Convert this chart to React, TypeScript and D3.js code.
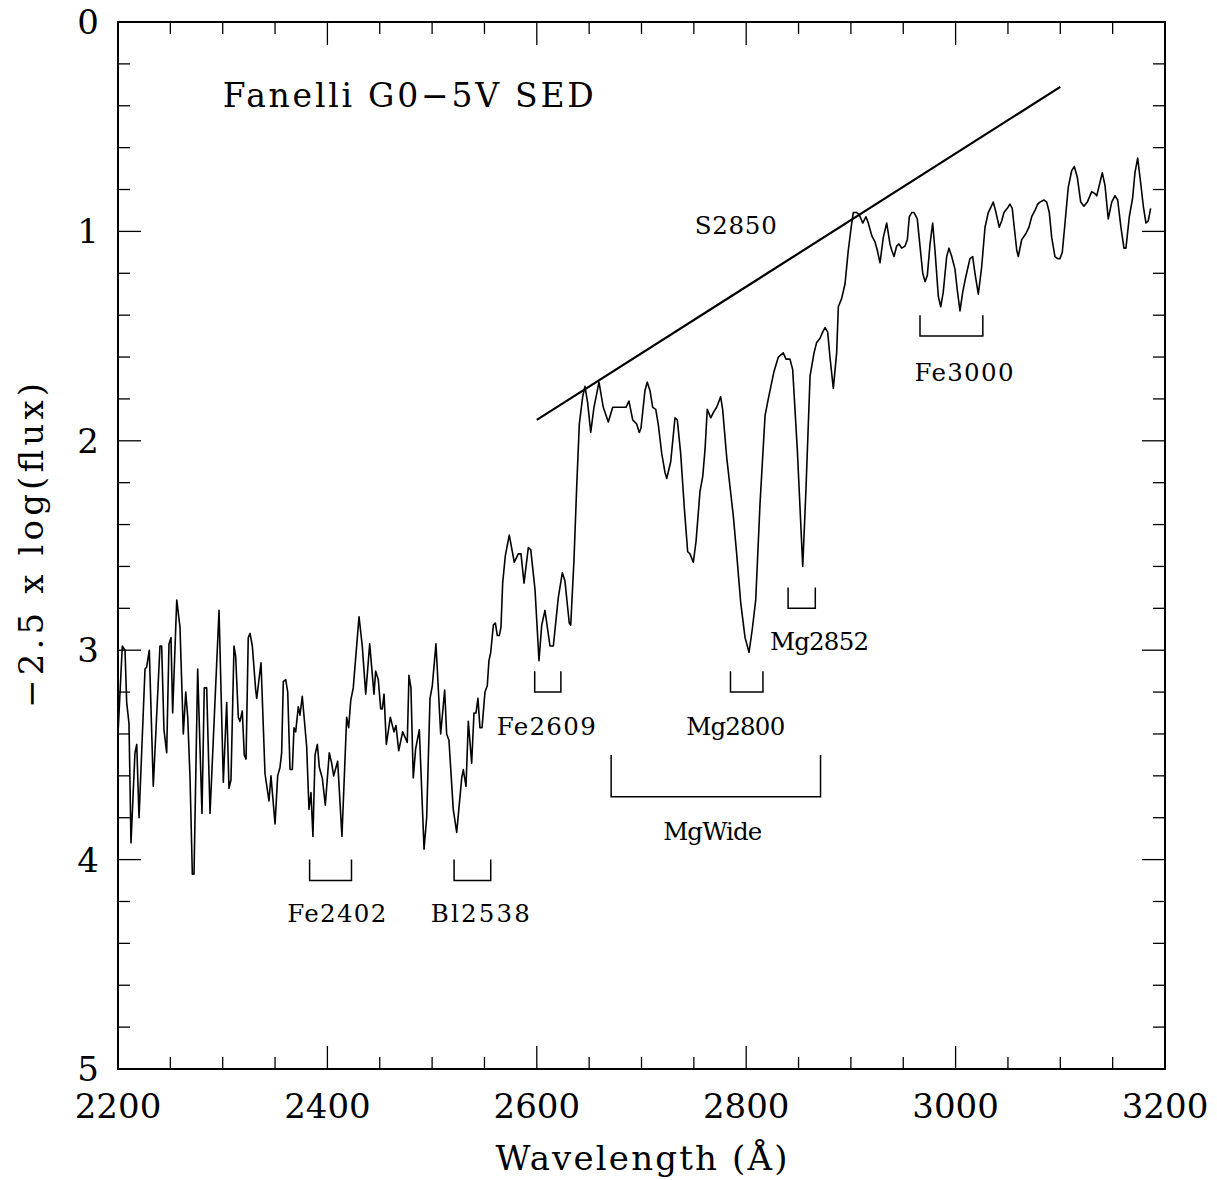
import React from 'react';
import * as d3 from 'd3';

// Spectrum: wavelength (Å) and -2.5 log(flux)
const wavelength = [
  2200.3, 2204.1, 2206.7, 2208.3, 2210.5, 2212.4, 2216.2, 2217.9, 2220.1, 2225.8,
  2227.4, 2229.9, 2233.7, 2240.1, 2241.7, 2243.9, 2246.5, 2248.7, 2250.6, 2252.2,
  2256.1, 2259.2, 2262.4, 2264.7, 2266.6, 2268.8, 2271.0, 2272.6, 2276.1, 2280.2,
  2282.4, 2284.7, 2287.9, 2292.6, 2296.5, 2300.6, 2303.8, 2306.0, 2307.9, 2310.8,
  2312.4, 2314.9, 2316.5, 2318.7, 2320.6, 2322.3, 2324.4, 2326.1, 2328.3, 2331.5,
  2332.5, 2336.6, 2340.4, 2344.2, 2346.1, 2350.0, 2352.5, 2354.7, 2356.3, 2357.9,
  2360.2, 2362.1, 2364.3, 2366.5, 2368.1, 2369.7, 2372.2, 2373.8, 2376.0, 2380.2,
  2382.4, 2384.3, 2386.2, 2388.2, 2390.4, 2392.3, 2395.1, 2398.0, 2401.8, 2404.1,
  2406.0, 2409.8, 2413.9, 2418.4, 2420.3, 2422.3, 2424.7, 2430.2, 2433.3, 2436.6,
  2440.4, 2444.5, 2446.1, 2448.6, 2450.9, 2452.4, 2454.1, 2456.3, 2460.1, 2463.6,
  2465.5, 2468.1, 2471.9, 2476.3,
  2477.9, 2479.8, 2482.0, 2484.3, 2487.8, 2492.3, 2494.8, 2498.0, 2500.2, 2503.7,
  2508.2, 2512.0, 2513.9, 2516.1, 2520.2, 2523.5, 2528.3, 2529.8, 2532.4, 2534.6,
  2537.8, 2540.0, 2541.9, 2543.8, 2545.7, 2547.7, 2550.5, 2552.7, 2554.3, 2556.0,
  2558.5, 2560.4, 2562.3, 2564.2, 2565.8, 2567.4, 2569.9, 2573.7, 2578.5, 2582.3,
  2584.9, 2587.8, 2591.9, 2594.2, 2598.3, 2602.1, 2604.7, 2607.8, 2612.6, 2615.8,
  2620.5, 2624.4, 2626.9, 2631.0, 2632.4,
  2635.5, 2638.1, 2640.6, 2643.8, 2646.0, 2648.6, 2651.5, 2654.6, 2659.4, 2663.5,
  2668.3, 2672.5, 2677.8, 2685.2, 2688.0, 2691.6, 2695.4, 2697.9, 2699.5, 2703.3,
  2705.5, 2708.1, 2710.7, 2713.6, 2716.0, 2719.3, 2722.4, 2724.1, 2727.9, 2732.0,
  2734.2, 2737.4, 2740.9, 2744.1, 2746.3, 2749.5, 2752.1, 2755.9, 2758.5, 2760.7,
  2762.8, 2766.1, 2769.2, 2771.8, 2775.6, 2777.5, 2781.4, 2787.7, 2790.9, 2794.7,
  2798.9, 2802.7, 2805.8, 2809.1, 2813.2, 2818.0, 2821.1, 2826.5, 2830.7, 2835.4,
  2838.0, 2841.8, 2844.4, 2848.8, 2851.4, 2854.0, 2857.1, 2861.0, 2864.8, 2867.3,
  2870.5, 2873.1, 2875.3, 2877.8, 2880.0, 2883.2, 2886.4,
  2888.0, 2891.2, 2894.4, 2897.5, 2900.8, 2902.3, 2905.5, 2908.0, 2911.3, 2914.4,
  2916.6, 2919.9, 2923.0, 2925.2, 2927.8, 2930.9, 2934.2, 2937.3, 2939.0, 2941.2,
  2943.7, 2945.9, 2948.5, 2951.7, 2953.9, 2955.8, 2958.1, 2960.3, 2963.4, 2966.0,
  2968.6, 2970.8, 2973.0, 2975.6, 2978.1, 2980.3, 2983.5, 2985.8, 2988.2, 2991.5,
  2993.7, 2996.3, 2999.4, 3001.6, 3004.2, 3006.8, 3009.6, 3013.7, 3016.3, 3018.5,
  3021.7, 3024.9, 3028.1, 3031.2,
  3036.0, 3038.6, 3041.7, 3044.0, 3046.2, 3049.4, 3051.9, 3054.1, 3056.0, 3058.4,
  3059.9, 3063.1, 3067.2, 3070.1, 3072.7, 3075.8, 3078.4, 3080.6, 3084.4, 3087.0,
  3089.5, 3091.8, 3094.9, 3097.5, 3099.7, 3101.9, 3104.5, 3107.6, 3110.9, 3113.4,
  3116.2, 3119.5, 3122.6, 3125.8, 3130.0, 3133.1, 3134.8, 3137.2, 3140.1, 3142.7,
  3145.8, 3149.1, 3152.2, 3154.8, 3157.9, 3160.8, 3162.7, 3165.9, 3169.1, 3171.3,
  3173.9, 3176.8, 3179.3, 3181.8, 3184.0, 3186.3,
];

const magnitude = [
  3.37, 2.98, 3.00, 3.25, 3.35, 3.92, 3.49, 3.45, 3.80, 3.09,
  3.08, 3.00, 3.65, 2.98, 2.98, 3.38, 3.49, 2.97, 2.94, 3.30,
  2.76, 2.89, 3.40, 3.20, 3.32, 3.61, 4.07, 4.07, 3.09, 3.78,
  3.18, 3.18, 3.78, 3.25, 2.81, 3.63, 3.25, 3.66, 3.62, 2.98,
  3.03, 3.32, 3.34, 3.29, 3.50, 3.52, 2.94, 2.92, 2.98, 3.19,
  3.23, 3.06, 3.59, 3.72, 3.60, 3.83, 3.60, 3.56, 3.49, 3.15,
  3.14, 3.20, 3.57, 3.57, 3.37, 3.39, 3.27, 3.31, 3.22, 3.46,
  3.76, 3.68, 3.89, 3.50, 3.45, 3.56, 3.61, 3.74, 3.49, 3.54,
  3.60, 3.53, 3.89, 3.32, 3.37, 3.24, 3.18, 2.84, 2.98, 3.21,
  2.97, 3.21, 3.10, 3.14, 3.28, 3.28, 3.21, 3.45, 3.32, 3.39,
  3.36, 3.48, 3.39, 3.44,
  3.12, 3.18, 3.61, 3.47, 3.38, 3.95, 3.80, 3.23, 3.17, 2.97,
  3.40, 3.19, 3.40, 3.43, 3.76, 3.87, 3.61, 3.57, 3.65, 3.34,
  3.54, 3.30, 3.30, 3.23, 3.37, 3.37, 3.20, 3.17, 3.05, 3.01,
  2.88, 2.87, 2.93, 2.93, 2.89, 2.68, 2.55, 2.45, 2.58, 2.54,
  2.54, 2.68, 2.51, 2.52, 2.71, 3.05, 2.88, 2.81, 2.98, 2.98,
  2.75, 2.63, 2.67, 2.87, 2.88,
  2.57, 2.22, 1.92, 1.79, 1.74, 1.82, 1.96, 1.84, 1.72, 1.84,
  1.91, 1.84, 1.84, 1.84, 1.81, 1.90, 1.92, 1.96, 1.94, 1.76,
  1.72, 1.76, 1.84, 1.85, 1.92, 2.06, 2.15, 2.18, 2.10, 1.89,
  1.90, 2.06, 2.32, 2.53, 2.54, 2.58, 2.48, 2.24, 2.17, 2.04,
  1.85, 1.89, 1.86, 1.84, 1.79, 1.85, 2.08, 2.36, 2.54, 2.77,
  2.94, 3.01, 2.90, 2.76, 2.30, 1.88, 1.80, 1.67, 1.60, 1.58,
  1.61, 1.61, 1.66, 2.04, 2.32, 2.60, 2.23, 1.69, 1.58, 1.53,
  1.51, 1.48, 1.46, 1.48, 1.60, 1.75, 1.58,
  1.36, 1.32, 1.25, 1.09, 0.96, 0.91, 0.91, 0.92, 0.96, 0.93,
  0.96, 1.02, 1.05, 1.09, 1.15, 1.03, 0.96, 1.06, 1.09, 1.12,
  1.07, 1.06, 1.08, 1.07, 1.04, 0.93, 0.91, 0.91, 0.94, 1.07,
  1.20, 1.24, 1.21, 1.06, 0.96, 1.09, 1.31, 1.36, 1.29, 1.12,
  1.08, 1.12, 1.18, 1.28, 1.38, 1.29, 1.22, 1.13, 1.12, 1.20,
  1.30, 1.17, 0.98, 0.91,
  0.86, 0.91, 0.98, 0.95, 0.91, 0.89, 0.87, 0.89, 0.98, 1.09,
  1.12, 1.04, 1.01, 0.98, 0.93, 0.90, 0.87, 0.86, 0.85, 0.86,
  0.91, 1.03, 1.12, 1.13, 1.13, 1.10, 0.96, 0.79, 0.71, 0.69,
  0.74, 0.86, 0.88, 0.86, 0.81, 0.82, 0.83, 0.78, 0.72, 0.78,
  0.94, 0.86, 0.83, 0.85, 0.98, 1.08, 1.08, 0.93, 0.84, 0.72,
  0.65, 0.77, 0.88, 0.96, 0.95, 0.89,
];

// S2850 pseudo-continuum line (endpoints)
const s2850X = [2600, 3100];
const s2850Y = [1.9, 0.31];

// Index bandpasses shown as brackets
const indexNames = ['Fe2402', 'Bl2538', 'Fe2609', 'Mg2800', 'Mg2852', 'MgWide', 'Fe3000'];
const indexLo = [2383, 2521, 2598, 2785, 2840, 2671, 2966];
const indexHi = [2423, 2556, 2623, 2816, 2866, 2871, 3026];
const bracketTop = [4.0, 4.0, 3.1, 3.1, 2.7, 3.5, 1.4];
const bracketBottom = [4.1, 4.1, 3.2, 3.2, 2.8, 3.7, 1.5];
const labelX = [2409, 2546, 2609, 2790, 2870, 2768, 3008];
const labelY = [4.30, 4.30, 3.405, 3.405, 3.0, 3.905, 1.715];

const xTickLabels = [2200, 2400, 2600, 2800, 3000, 3200];
const yTickLabels = [0, 1, 2, 3, 4, 5];

const W = 1217;
const H = 1180;
const FONT = '"DejaVu Serif", "Liberation Serif", serif';

export default function App() {
  const x = d3.scaleLinear().domain([2200, 3200]).range([118, 1165]);
  const y = d3.scaleLinear().domain([0, 5]).range([22, 1069]);

  const pts: [number, number][] = [];
  const n = Math.min(wavelength.length, magnitude.length);
  for (let i = 0; i < n; i++) pts.push([wavelength[i], magnitude[i]]);

  const line = d3
    .line<[number, number]>()
    .x((d) => x(d[0]))
    .y((d) => y(d[1]));

  const xMinor = d3.range(2200, 3200.01, 50);
  const yMinor = d3.range(0, 50.01, 2).map((v) => v / 10);
  const majLen = 23;
  const minLen = 12;

  const [x0, x1] = x.range();
  const [y0, y1] = y.range();

  const labelLen = (s: string) => s.length * 16.5;

  return (
    <svg
      width={W}
      height={H}
      style={{ position: 'absolute', left: 0, top: 0, background: '#fff' }}
      fontFamily={FONT}
    >
      <rect x={0} y={0} width={W} height={H} fill="#fff" />
      {/* frame */}
      <rect x={x0} y={y0} width={x1 - x0} height={y1 - y0} fill="none" stroke="#000" strokeWidth={2} />
      {/* x ticks */}
      {xMinor.map((v) => {
        const major = Math.abs(v % 200) < 1e-6;
        const len = major ? majLen : minLen;
        const px = x(v);
        return (
          <g key={'xt' + v}>
            <line x1={px} x2={px} y1={y1} y2={y1 - len} stroke="#000" strokeWidth={1.3} />
            <line x1={px} x2={px} y1={y0} y2={y0 + len} stroke="#000" strokeWidth={1.3} />
          </g>
        );
      })}
      {/* y ticks */}
      {yMinor.map((v) => {
        const major = Math.abs(v - Math.round(v)) < 1e-6;
        const len = major ? majLen : minLen;
        const py = y(v);
        return (
          <g key={'yt' + v}>
            <line x1={x0} x2={x0 + len} y1={py} y2={py} stroke="#000" strokeWidth={1.3} />
            <line x1={x1} x2={x1 - len} y1={py} y2={py} stroke="#000" strokeWidth={1.3} />
          </g>
        );
      })}
      {/* tick labels */}
      {xTickLabels.map((v) => (
        <text key={'xl' + v} x={x(v)} y={1118} fontSize={34} textAnchor="middle" fill="#000">
          {v}
        </text>
      ))}
      {yTickLabels.map((v) => (
        <text key={'yl' + v} x={99} y={y(v) + 12} fontSize={34} textAnchor="end" fill="#000">
          {v}
        </text>
      ))}
      {/* axis titles */}
      <text
        x={(x0 + x1) / 2}
        y={1170}
        fontSize={34}
        textAnchor="middle"
        fill="#000"
        textLength={292}
        lengthAdjust="spacing"
      >
        Wavelength (Å)
      </text>
      <text
        transform={`translate(43,${(y0 + y1) / 2}) rotate(-90)`}
        fontSize={34}
        textAnchor="middle"
        fill="#000"
        textLength={325}
        lengthAdjust="spacing"
      >
        −2.5 x log(flux)
      </text>
      {/* spectrum */}
      <path d={line(pts) || ''} fill="none" stroke="#000" strokeWidth={1.6} strokeLinejoin="round" />
      {/* S2850 line */}
      <line
        x1={x(s2850X[0])}
        y1={y(s2850Y[0])}
        x2={x(s2850X[1])}
        y2={y(s2850Y[1])}
        stroke="#000"
        strokeWidth={2.2}
      />
      <text
        x={x(2790)}
        y={y(1.012)}
        fontSize={24.5}
        textAnchor="middle"
        fill="#000"
        textLength={82}
        lengthAdjust="spacing"
      >
        S2850
      </text>
      {/* brackets */}
      {indexNames.map((name, i) => {
        const a = x(indexLo[i]);
        const b = x(indexHi[i]);
        const t = y(bracketTop[i]);
        const bt = y(bracketBottom[i]);
        return (
          <g key={name}>
            <path d={`M${a},${t}L${a},${bt}L${b},${bt}L${b},${t}`} fill="none" stroke="#000" strokeWidth={1.5} />
            <text
              x={x(labelX[i])}
              y={y(labelY[i])}
              fontSize={24.5}
              textAnchor="middle"
              fill="#000"
              textLength={labelLen(name)}
              lengthAdjust="spacing"
            >
              {name}
            </text>
          </g>
        );
      })}
      {/* title */}
      <text x={x(2300)} y={y(0.405)} fontSize={33} fill="#000" textLength={371} lengthAdjust="spacing">
        Fanelli G0−5V SED
      </text>
    </svg>
  );
}
